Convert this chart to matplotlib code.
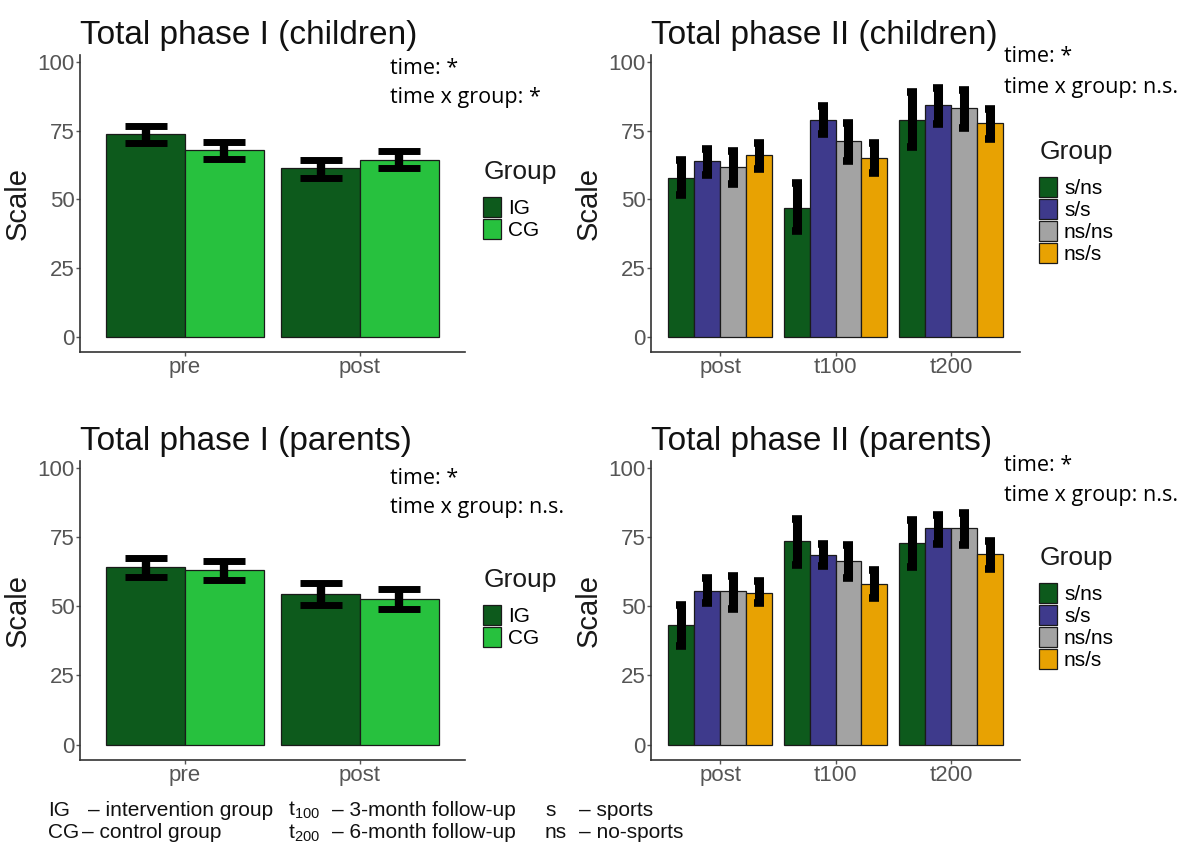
import numpy as np
import matplotlib.pyplot as plt
from matplotlib.patches import Patch

plt.rcParams['font.family'] = ['Liberation Sans', 'DejaVu Sans']
plt.rcParams['mathtext.fontset'] = 'custom'
plt.rcParams['mathtext.rm'] = 'Liberation Sans'

W, H = 1188, 850

# phase I: two groups, two time points
p1_times = ["pre", "post"]
p1_groups = ["IG", "CG"]
p1_colors = ["#0d5a1c", "#27c13e"]

# children
p1c_mean = [[73.8, 61.3], [67.9, 64.5]]
p1c_lo = [[70.6, 57.8], [64.8, 61.3]]
p1c_hi = [[76.8, 64.5], [71.0, 67.5]]
# parents
p1p_mean = [[64.1, 54.5], [62.9, 52.7]]
p1p_lo = [[60.6, 50.4], [59.4, 49.0]]
p1p_hi = [[67.5, 58.4], [66.3, 56.2]]

# phase II: four groups, three time points
p2_times = ["post", "t100", "t200"]
p2_groups = ["s/ns", "s/s", "ns/ns", "ns/s"]
p2_colors = ["#0d5a1c", "#3e3a8c", "#a3a3a3", "#e8a202"]

# children
p2c_mean = [[57.8, 47.0, 78.8], [64.1, 79.0, 84.5], [61.8, 71.2, 83.3], [66.1, 65.1, 77.8]]
p2c_lo = [[51.5, 38.5, 69.0], [59.0, 74.0, 77.5], [55.5, 64.0, 76.0], [61.0, 59.5, 72.0]]
p2c_hi = [[64.5, 56.0, 89.0], [68.5, 84.0, 90.5], [67.5, 78.0, 90.0], [70.5, 70.5, 83.0]]
# parents
p2p_mean = [[43.3, 73.6, 72.7], [55.4, 68.4, 78.1], [55.4, 66.3, 78.1], [54.8, 58.1, 68.8]]
p2p_lo = [[35.5, 65.0, 64.0], [51.0, 64.5, 72.5], [49.0, 60.0, 72.0], [51.0, 53.0, 63.5]]
p2p_hi = [[50.5, 81.5, 81.0], [60.0, 72.5, 83.0], [61.0, 72.0, 83.5], [59.0, 63.0, 73.5]]


def px(x, y):
    return (x / W, 1 - y / H)


def draw_panel(ax, times, groups, colors, mean, lo, hi, title, stats, ann_xy, leg_xy, caps, lw):
    n = len(groups)
    x = np.arange(1, len(times) + 1)
    w = 0.9 / n
    for i in range(n):
        pos = x + (i - (n - 1) / 2) * w
        m = np.array(mean[i])
        err = [m - np.array(lo[i]), np.array(hi[i]) - m]
        ax.bar(pos, m, width=w, color=colors[i], edgecolor="#1a1a1a", linewidth=0.9)
        ax.errorbar(pos, m, yerr=err, fmt="none", ecolor="black",
                    elinewidth=lw, capsize=caps, capthick=lw - 1)
    ax.set_xlim(0.4, len(times) + 0.6)
    ax.set_ylim(-5.5, 102.5)
    ax.set_yticks([0, 25, 50, 75, 100])
    ax.set_xticks(x)
    ax.set_xticklabels(times)
    ax.tick_params(colors="#555555", labelsize=16, length=3, width=1, pad=1)
    for s in ["top", "right"]:
        ax.spines[s].set_visible(False)
    for s in ["left", "bottom"]:
        ax.spines[s].set_color("#333333")
        ax.spines[s].set_linewidth(1.2)
    ax.set_ylabel("Scale", fontsize=21, labelpad=4, color="#1a1a1a")
    ax.set_title(title, fontsize=24, loc="left", pad=8, x=0.0, color="#111111")

    # legend: title drawn as text, keys stacked tight
    fig.text(*px(leg_xy[0], leg_xy[1]), "Group", fontsize=19, va="center", color="#1a1a1a")
    handles = [Patch(facecolor=c, edgecolor="#1a1a1a", linewidth=0.9) for c in colors]
    fig.legend(handles, groups, frameon=False, fontsize=15, loc="upper left",
               bbox_to_anchor=px(leg_xy[0] - 1, leg_xy[1] + 25),
               labelspacing=0.04, handlelength=0.85, handleheight=1.1,
               handletextpad=0.35, borderpad=0, borderaxespad=0)

    fig.text(*px(ann_xy[0], ann_xy[1]), "time: *", fontsize=15.5,
             family="Open Sans", va="center")
    fig.text(*px(ann_xy[0], ann_xy[1] + 30), stats, fontsize=15.5,
             family="Open Sans", va="center")


fig = plt.figure(figsize=(W / 100, H / 100), dpi=100)
ax1 = fig.add_axes([0.0673, 0.586, 0.324, 0.349])
ax2 = fig.add_axes([0.548, 0.586, 0.3106, 0.349])
ax3 = fig.add_axes([0.0673, 0.106, 0.324, 0.352])
ax4 = fig.add_axes([0.548, 0.106, 0.3106, 0.352])

draw_panel(ax1, p1_times, p1_groups, p1_colors, p1c_mean, p1c_lo, p1c_hi,
           "Total phase I (children)", "time x group: *", (390, 68), (484, 172), 15, 6)
draw_panel(ax2, p2_times, p2_groups, p2_colors, p2c_mean, p2c_lo, p2c_hi,
           "Total phase II (children)", "time x group: n.s.", (1004, 57), (1040, 152), 3.5, 6.5)
draw_panel(ax3, p1_times, p1_groups, p1_colors, p1p_mean, p1p_lo, p1p_hi,
           "Total phase I (parents)", "time x group: n.s.", (390, 478), (484, 580), 15, 6)
draw_panel(ax4, p2_times, p2_groups, p2_colors, p2p_mean, p2p_lo, p2p_hi,
           "Total phase II (parents)", "time x group: n.s.", (1004, 465), (1040, 558), 3.5, 6.5)

# footnote
abbr = ["IG", "CG", r"t$_\mathregular{100}$", r"t$_\mathregular{200}$", "s", "ns"]
desc = ["– intervention group", "– control group", "– 3-month follow-up",
        "– 6-month follow-up", "– sports", "– no-sports"]
abbr_x = [48, 48, 288, 288, 545, 545]
desc_x = [88, 82, 332, 332, 579, 579]
row_y = [810, 833, 810, 833, 810, 833]
for a, d, ax_, dx, ry in zip(abbr, desc, abbr_x, desc_x, row_y):
    fig.text(*px(ax_, ry), a, fontsize=15, va="center", color="#111111")
    fig.text(*px(dx, ry), d, fontsize=15, va="center", color="#111111")

fig.savefig("out.png", dpi=100)
